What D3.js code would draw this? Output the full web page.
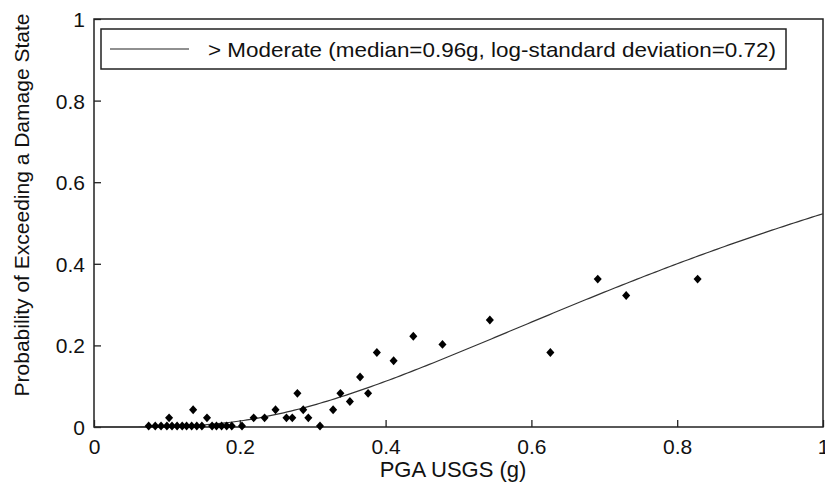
<!DOCTYPE html>
<html>
<head>
<meta charset="utf-8">
<script src="https://cdn.jsdelivr.net/npm/d3@7"></script>
<style>
  body { margin: 0; background: #fff; }
  text { font-family: "Liberation Sans", Arial, sans-serif; fill: #111; }
</style>
</head>
<body>
<script>
// observed points
var pga = [0.075, 0.084, 0.092, 0.100, 0.103, 0.107, 0.114, 0.121, 0.127, 0.134, 0.136, 0.141,
           0.148, 0.155, 0.162, 0.168, 0.175, 0.182, 0.189, 0.203,
           0.219, 0.234, 0.249, 0.264, 0.272, 0.279, 0.287, 0.294, 0.310, 0.328,
           0.338, 0.351, 0.365, 0.376, 0.388, 0.411, 0.438, 0.478, 0.543, 0.626,
           0.691, 0.730, 0.828];
var prob = [0, 0, 0, 0, 0.02, 0, 0, 0, 0, 0, 0.04, 0,
            0, 0.02, 0, 0, 0, 0, 0, 0,
            0.02, 0.02, 0.04, 0.02, 0.02, 0.08, 0.04, 0.02, 0, 0.04,
            0.08, 0.06, 0.12, 0.08, 0.18, 0.16, 0.22, 0.20, 0.26, 0.18,
            0.36, 0.32, 0.36];

// fragility curve parameters
var median = 0.96, beta = 0.72;
var xTicks = [0, 0.2, 0.4, 0.6, 0.8, 1];
var yTicks = [0, 0.2, 0.4, 0.6, 0.8, 1];
var legendLabel = "> Moderate (median=0.96g, log-standard deviation=0.72)";

var svg = d3.select("body")
    .append("svg")
    .attr("width", 825)
    .attr("height", 484)
    .style("display", "block");

var margin = {top: 19, right: 2, bottom: 57, left: 94};
var width = 825 - margin.left - margin.right;
var height = 484 - margin.top - margin.bottom;

var g = svg.append("g").attr("transform", "translate(" + margin.left + "," + margin.top + ")");

var x = d3.scaleLinear().domain([0, 1]).range([0, width]);
var y = d3.scaleLinear().domain([0, 1]).range([height, 0]);

var fmt = function(d) { return d === 0 || d === 1 ? String(d) : d3.format(".1f")(d); };

// normal cdf (Abramowitz-Stegun)
function phi(z) {
    var t = 1 / (1 + 0.2316419 * Math.abs(z));
    var d = 0.3989423 * Math.exp(-z * z / 2);
    var p = d * t * (0.3193815 + t * (-0.3565638 + t * (1.781478 + t * (-1.821256 + t * 1.330274))));
    return z > 0 ? 1 - p : p;
}

var xAxis = d3.axisBottom(x).tickValues(xTicks).tickSize(-7).tickPadding(12).tickFormat(fmt);
var yAxis = d3.axisLeft(y).tickValues(yTicks).tickSize(-7).tickPadding(9).tickFormat(fmt);

g.append("g")
    .attr("transform", "translate(0," + height + ")")
    .call(xAxis)
    .call(function(a) {
        a.select(".domain").remove();
        a.selectAll("line").attr("stroke", "#222").attr("stroke-width", 1.3);
        a.selectAll("text").style("font-size", "21px").attr("fill", "#111");
    });

g.append("g")
    .call(yAxis)
    .call(function(a) {
        a.select(".domain").remove();
        a.selectAll("line").attr("stroke", "#222").attr("stroke-width", 1.3);
        a.selectAll("text").style("font-size", "21px").attr("fill", "#111").attr("dy", "0.36em");
    });

// frame
g.append("rect")
    .attr("x", 0).attr("y", 0)
    .attr("width", width).attr("height", height)
    .attr("fill", "none")
    .attr("stroke", "#222")
    .attr("stroke-width", 1.5);

// fitted curve
var curve = d3.range(0.005, 1.0001, 0.005).map(function(v) {
    return [v, phi(Math.log(v / median) / beta)];
});
var line = d3.line().x(function(d) { return x(d[0]); }).y(function(d) { return y(d[1]); });
g.append("path")
    .datum([[0, 0]].concat(curve))
    .attr("fill", "none")
    .attr("stroke", "#333")
    .attr("stroke-width", 1.2)
    .attr("d", line);

// diamonds
g.selectAll(".pt")
    .data(pga)
    .enter()
    .append("path")
    .attr("class", "pt")
    .attr("transform", function(d, i) { return "translate(" + x(d) + "," + (y(prob[i]) - 1) + ") scale(0.95,1.05)"; })
    .attr("d", d3.symbol().type(d3.symbolDiamond2).size(46))
    .attr("fill", "#000");

// legend
var lg = g.append("g").attr("transform", "translate(7,10)");
lg.append("rect")
    .attr("width", 685).attr("height", 40)
    .attr("fill", "#fff")
    .attr("stroke", "#222")
    .attr("stroke-width", 1.5);
lg.append("line")
    .attr("x1", 9).attr("x2", 88).attr("y1", 20).attr("y2", 20)
    .attr("stroke", "#222").attr("stroke-width", 1.2);
lg.append("text")
    .attr("x", 107).attr("y", 28)
    .style("font-size", "21px")
    .attr("textLength", 568)
    .attr("lengthAdjust", "spacingAndGlyphs")
    .text(legendLabel);

// axis titles
svg.append("text")
    .attr("x", 453)
    .attr("y", 477)
    .attr("text-anchor", "middle")
    .style("font-size", "22px")
    .text("PGA USGS (g)");

svg.append("text")
    .attr("transform", "translate(29,205) rotate(-90)")
    .attr("text-anchor", "middle")
    .style("font-size", "21px")
    .text("Probability of Exceeding a Damage State");
</script>
</body>
</html>
